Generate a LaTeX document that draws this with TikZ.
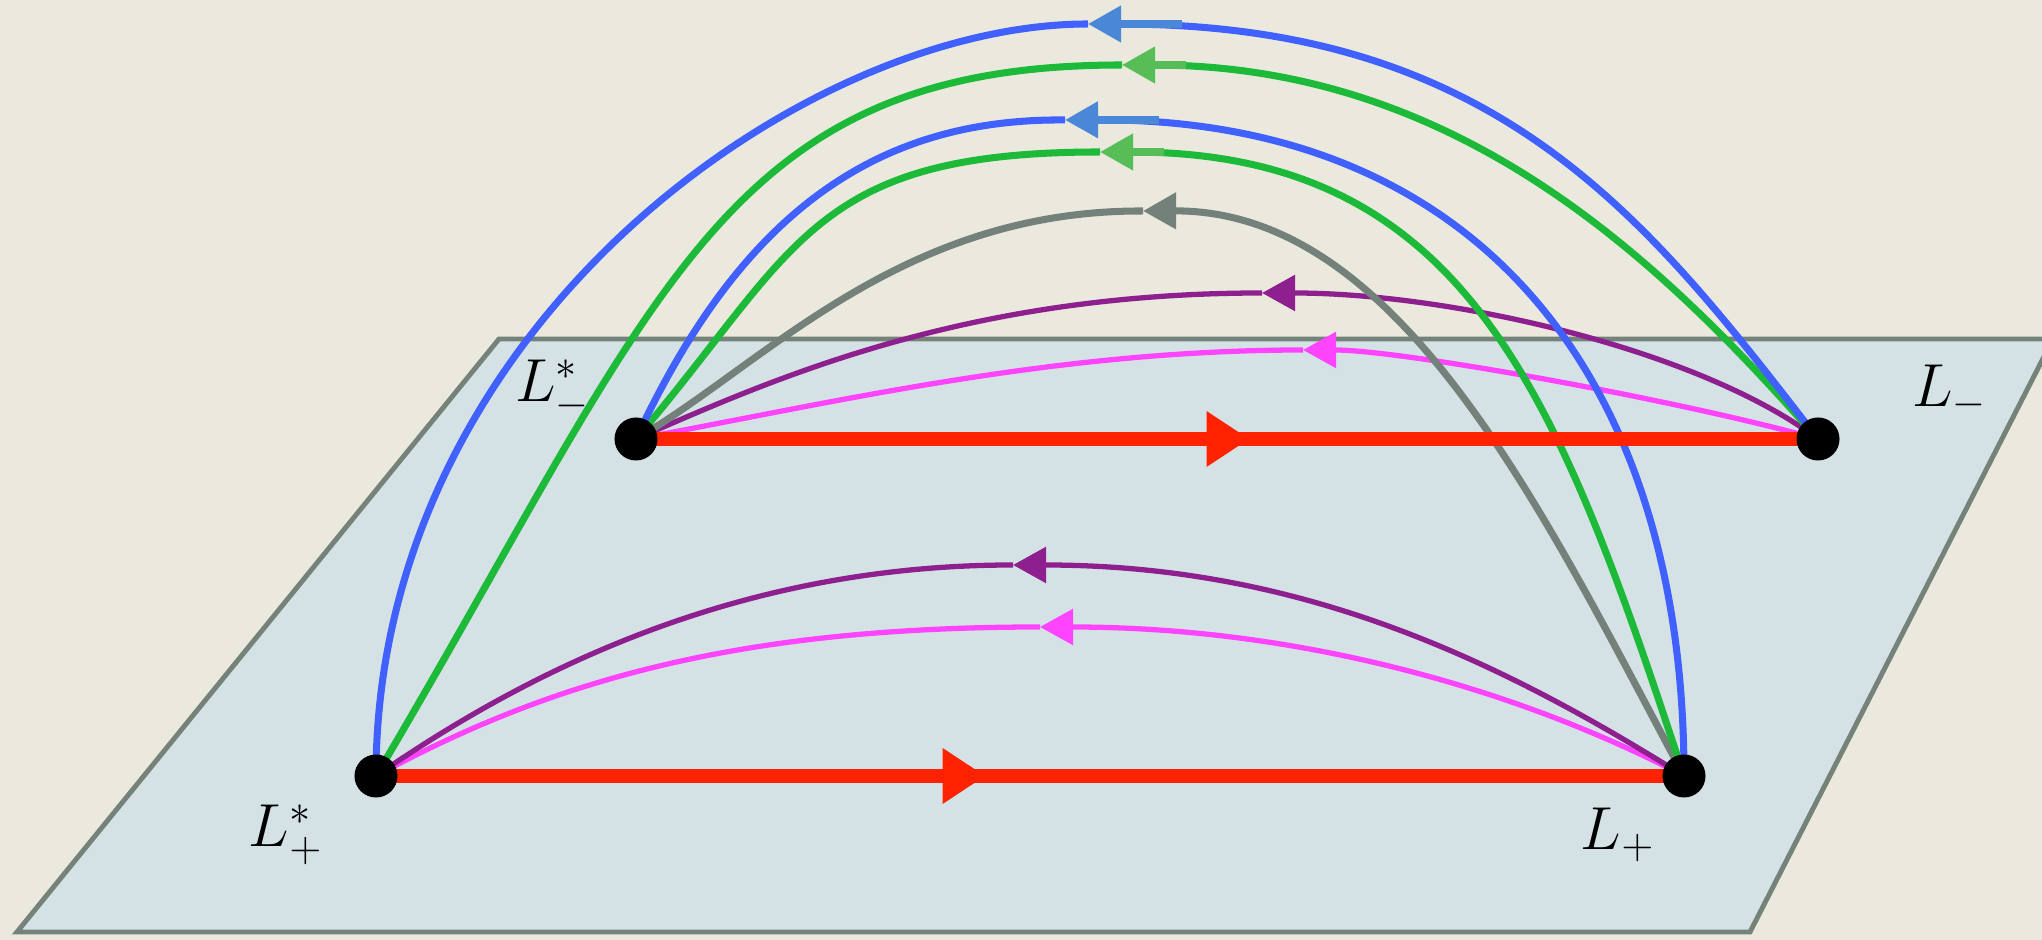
\documentclass[tikz,border=0pt]{standalone}
\definecolor{PaperBeige}{HTML}{EBE9DD}
\definecolor{PlaneBlue}{HTML}{D4E2E5}
\definecolor{PlaneEdge}{HTML}{75827A}
\definecolor{ArcBlue}{HTML}{4060FF}
\definecolor{TipBlue}{HTML}{4A87D6}
\definecolor{ArcGreen}{HTML}{1CBA38}
\definecolor{TipGreen}{HTML}{57BD57}
\definecolor{ArcGray}{HTML}{74817A}
\definecolor{ArcPurple}{HTML}{8E1F8E}
\definecolor{ArcPink}{HTML}{FF44FF}
\definecolor{FlowRed}{HTML}{FF2200}
\usetikzlibrary{arrows.meta,positioning,decorations.markings}

\begin{document}
\begin{tikzpicture}[
    x=0.01cm, y=0.01cm,
    plane/.style={fill=PlaneBlue, draw=PlaneEdge, line width=1.4pt},
    arc/.style={line width=2pt},
    flat/.style={line width=1.5pt},
    tipped/.style={-{Triangle[length=9.4pt,width=10pt,color=#1]}},
    flow/.style={color=FlowRed, line width=3.8pt, postaction={decorate},
      decoration={markings, mark=at position #1 with {\arrow{Triangle[length=12.2pt,width=15pt]}}}},
    dot/.style={circle, fill=black, inner sep=0pt, minimum size=0.43cm},
    lbl/.style={font=\fontsize{17.28}{21}\selectfont, inner sep=0pt}
  ]
  \clip (0,0) rectangle (2042,940);
  \fill[PaperBeige] (0,0) rectangle (2042,940);
  \draw[plane] (499,601) -- (2053,601) -- (1750,8) -- (17,8) -- cycle;

  % the four points
  \coordinate (Lms) at (636,501);
  \coordinate (Lm)  at (1818,501);
  \coordinate (Lps) at (376,164);
  \coordinate (Lp)  at (1684,164);

  % tops of the arcs, where the tips sit
  \coordinate (apexPinkLow)   at (1040,313);
  \coordinate (apexPurpleLow) at (1013,375);
  \coordinate (apexPinkUp)    at (1303,590);
  \coordinate (apexPurpleUp)  at (1262,647);
  \coordinate (apexGray)      at (1143,729);
  \coordinate (apexGreenIn)   at (1100,788);
  \coordinate (apexBlueIn)    at (1065,820);
  \coordinate (apexGreenOut)  at (1122,875);
  \coordinate (apexBlueOut)   at (1088,916);

  % lower pair
  \draw[flat, ArcPink, tipped=ArcPink] (Lp) .. controls (1520,250) and (1300,313) .. (apexPinkLow);
  \draw[flat, ArcPink] (apexPinkLow) .. controls (740,313) and (552,260) .. (Lps);
  \draw[flat, ArcPurple, tipped=ArcPurple] (Lp) .. controls (1497,281) and (1300,375) .. (apexPurpleLow);
  \draw[flat, ArcPurple] (apexPurpleLow) .. controls (735,375) and (525,267) .. (Lps);

  % upper pair
  \draw[flat, ArcPink, tipped=ArcPink] (Lm) .. controls (1674,541) and (1400,590) .. (apexPinkUp);
  \draw[flat, ArcPink] (apexPinkUp) .. controls (1053,590) and (832,537) .. (Lms);
  \draw[flat, ArcPurple, tipped=ArcPurple] (Lm) .. controls (1698,591) and (1450,647) .. (apexPurpleUp);
  \draw[flat, ArcPurple] (apexPurpleUp) .. controls (965,647) and (773,561) .. (Lms);

  % arcs over the plane
  \draw[arc, ArcGray, tipped=ArcGray] (Lp) .. controls (1543,428) and (1400,730) .. (apexGray);
  \draw[arc, ArcGray] (apexGray) .. controls (900,730) and (765,576) .. (Lms);
  \draw[arc, ArcGreen, tipped=TipGreen] (Lp) .. controls (1560,540) and (1470,788) .. (apexGreenIn);
  \draw[arc, ArcGreen] (apexGreenIn) .. controls (810,788) and (798,691) .. (Lms);
  \draw[arc, ArcBlue, tipped=TipBlue] (Lp) .. controls (1684,560) and (1480,822) .. (apexBlueIn);
  \draw[arc, ArcBlue] (apexBlueIn) .. controls (870,822) and (738,720) .. (Lms);
  \draw[arc, ArcGreen, tipped=TipGreen] (Lm) .. controls (1668,671) and (1465,875) .. (apexGreenOut);
  \draw[arc, ArcGreen] (apexGreenOut) .. controls (720,875) and (662,646) .. (Lps);
  \draw[arc, ArcBlue, tipped=TipBlue] (Lm) .. controls (1648,721) and (1500,916) .. (apexBlueOut);
  \draw[arc, ArcBlue] (apexBlueOut) .. controls (800,916) and (376,610) .. (Lps);

  % light shafts behind the blue and green tips
  \fill[TipBlue]  (apexBlueOut)  ++(31,-4.5) rectangle ++(63,8);
  \fill[TipBlue]  (apexBlueIn)   ++(31,-4.5) rectangle ++(63,8);
  \fill[TipGreen] (apexGreenOut) ++(31,-4.5) rectangle ++(33,8);
  \fill[TipGreen] (apexGreenIn)  ++(31,-4.5) rectangle ++(33,8);

  \draw[flow=0.466] (Lps) -- (Lp);
  \draw[flow=0.519] (Lms) -- (Lm);

  \node[dot] (dLms) at (Lms) {};
  \node[dot] (dLm)  at (Lm)  {};
  \node[dot] (dLps) at (Lps) {};
  \node[dot] (dLp)  at (Lp)  {};

  \node[lbl] (tLms) at (553,550) {$L^*_-$};
  \node[lbl] (tLm)  at (1950,548) {$L_-$};
  \node[lbl] (tLps) at (286,105) {$L^*_+$};
  \node[lbl] (tLp)  at (1618,105) {$L_+$};
\end{tikzpicture}
\end{document}
